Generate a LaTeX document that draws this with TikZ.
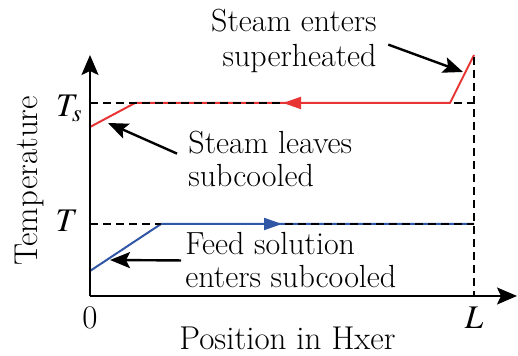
\documentclass[tikz,border=0pt]{standalone}
\usepackage{mathptmx}
\usetikzlibrary{arrows.meta}
\definecolor{steamred}{RGB}{232,52,52}
\definecolor{feedblue}{RGB}{48,86,166}

\begin{document}
\begin{tikzpicture}[x=0.5pt, y=0.5pt, >={Stealth[length=10pt, width=8.5pt, inset=2pt]}, line join=round]
		\tikzset{
			lbl/.style={inner sep=0pt, font=\fontsize{16.5}{16.5}\selectfont},
			note/.style={inner sep=0pt, font=\fontsize{16}{16.5}\selectfont},
			axis/.style={->, line width=1pt},
			guide/.style={line width=0.9pt, dash pattern=on 4pt off 2.5pt},
			pointer/.style={-{Stealth[length=10pt, width=8pt, inset=2pt]}, line width=1.2pt, shorten <=1pt},
			flow/.style={line width=1pt},
			flowtip/.style={-{Triangle[length=9pt, width=6pt]}}
		}
		\useasboundingbox (0,0) rectangle (518,356);

		% axes
		\coordinate (o) at (90,60);
		\coordinate (ytip) at (90,301);
		\coordinate (xtip) at (517,60);
		\coordinate (l) at (474,60);

		% steam side
		\coordinate (s0) at (90,229);
		\coordinate (s1) at (135,253);
		\coordinate (sa) at (283,253);
		\coordinate (s2) at (450,253);
		\coordinate (s3) at (474,301);
		\coordinate (tsl) at (90,253);
		\coordinate (tsr) at (474,253);
		\coordinate (ltop) at (474,299);

		% feed side
		\coordinate (f0) at (90,85);
		\coordinate (f1) at (161,132);
		\coordinate (fa) at (282,132);
		\coordinate (f2) at (474,132);
		\coordinate (tl) at (90,132);

		\draw[flow, steamred] (s0) -- (s1) -- (s2) -- (s3);
		\draw[flow, feedblue] (f0) -- (f1) -- (f2);

		\draw[guide] (tsl) -- (tsr);
		\draw[guide] (tl) -- (f2);
		\draw[guide] (ltop) -- (l);

		\draw[flow, flowtip, steamred] (s2) -- (sa);
		\draw[flow, flowtip, feedblue] (f1) -- (fa);

		\draw[axis] (o) -- (ytip);
		\draw[axis] (o) -- (xtip);

		\node[lbl, anchor=east] (ts) at (83,248) {$T_s$};
		\node[lbl, anchor=east] (t) at (78.5,135.5) {$T$};
		\node[lbl] (zero) at (90,38) {0};
		\node[lbl] (len) at (474,38) {$L$};
		\node[lbl, anchor=base] (xlab) at (287.5,6) {Position in Hxer};
		\node[lbl, rotate=90] (ylab) at (29,175) {Temperature};

		\node[note, align=right, anchor=east, font=\fontsize{16}{17.5}\selectfont] (hot) at (377,315.5) {Steam enters\\superheated};
		\node[note, align=left, anchor=west] (out) at (188,197.5) {Steam leaves\\subcooled};
		\node[note, align=left, anchor=west] (feed) at (185,95.5) {Feed solution\\enters subcooled};

		\coordinate (hotend) at (463,284);
		\coordinate (outend) at (108,233);
		\coordinate (feedend) at (110,96);

		\draw[pointer, shorten <=6pt] (hot.east) -- (hotend);
		\draw[pointer, shorten <=6pt] (out.west) -- (outend);
		\draw[pointer, shorten <=2pt] (feed.west) -- (feedend);
	\end{tikzpicture}
\end{document}
